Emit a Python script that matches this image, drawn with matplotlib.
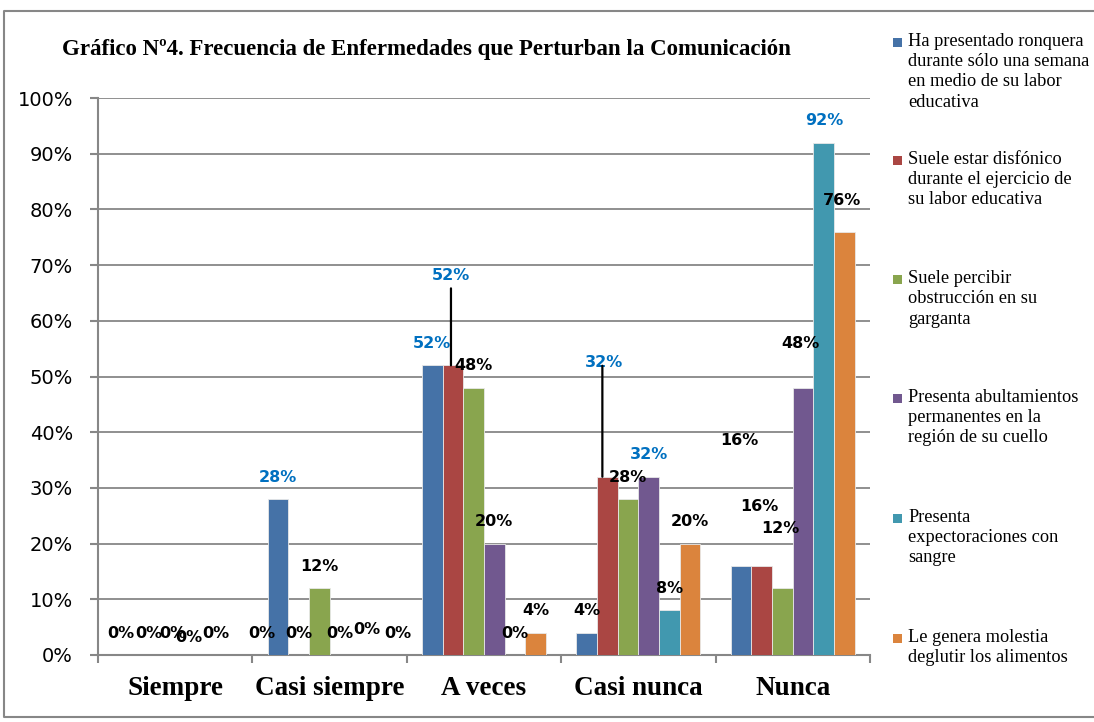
import numpy as np
import matplotlib.pyplot as plt
from matplotlib.patches import Rectangle
from matplotlib.lines import Line2D
from matplotlib.transforms import offset_copy

categorias = ['Siempre', 'Casi siempre', 'A veces', 'Casi nunca', 'Nunca']
series = [
    'Ha presentado ronquera\ndurante sólo una semana\nen medio de su labor\neducativa',
    'Suele estar disfónico\ndurante el ejercicio de\nsu labor educativa',
    'Suele percibir\nobstrucción en su\ngarganta',
    'Presenta abultamientos\npermanentes en la\nregión de su cuello',
    'Presenta\nexpectoraciones con\nsangre',
    'Le genera molestia\ndeglutir los alimentos',
]
ronquera = [0, 28, 52, 4, 16]
disfonico = [0, 0, 52, 32, 16]
obstruccion = [0, 12, 48, 28, 12]
abultamientos = [0, 0, 20, 32, 48]
expectoraciones = [0, 0, 0, 8, 92]
molestia = [0, 0, 4, 20, 76]
valores = [ronquera, disfonico, obstruccion, abultamientos, expectoraciones, molestia]

colores = ['#4572A7', '#AA4643', '#89A54E', '#71588F', '#4198AF', '#DB843D']
titulo = 'Gráfico Nº4. Frecuencia de Enfermedades que Perturban la Comunicación'

# ajustes manuales de etiquetas (pixeles): (categoria, serie) -> (dx, dy)
ajustes = {
    (0, 0): (-3, 0), (0, 1): (5, 0), (0, 2): (8, 0), (0, 3): (3, -5),
    (0, 4): (10, 0), (0, 5): (35, 0),
    (1, 4): (6, 3), (1, 5): (16, 0),
    (2, 1): (-2, 68),
    (3, 1): (-3, 92),
    (4, 0): (-2, 103), (4, 1): (-2, 37), (4, 2): (-2, 38), (4, 3): (-3, 22),
    (4, 5): (-3, 9),
}
# lineas guia: (categoria, serie) -> (dx, altura) en pixeles
lineas_guia = {(2, 1): (-2, 77), (3, 1): (-5, 111)}
etiquetas_azules = {(1, 0), (2, 0), (2, 1), (3, 1), (3, 3), (4, 4)}

W, H = 1094, 722
fig = plt.figure(figsize=(W / 100, H / 100), dpi=100)
ax = fig.add_axes([98 / W, 1 - 655 / H, (870 - 98) / W, (655 - 98) / H])

gris = '#878787'
n = len(series)
ancho = 0.134
x = np.arange(len(categorias))

for i, vals in enumerate(valores):
    pos = x + (i - (n - 1) / 2) * ancho
    ax.bar(pos, vals, width=ancho, color=colores[i], edgecolor='#e8e8e8',
           linewidth=0.6, zorder=3)
    for j, v in enumerate(vals):
        dx, dy = ajustes.get((j, i), (0, 0))
        col = '#0070C0' if (j, i) in etiquetas_azules else 'black'
        ax.annotate(f'{v}%', xy=(pos[j], v), xytext=(dx, 22 + dy),
                    textcoords='offset pixels', ha='center', va='center',
                    fontsize=11.5, fontweight='bold', color=col, zorder=5)
        if (j, i) in lineas_guia:
            lx, alto = lineas_guia[(j, i)]
            tr = offset_copy(ax.transData, fig=fig, x=lx, y=0, units='dots')
            ax.annotate('', xy=(pos[j], v), xycoords=tr, xytext=(0, alto),
                        textcoords='offset pixels',
                        arrowprops=dict(arrowstyle='-', color='black', lw=1.6,
                                        shrinkA=0, shrinkB=0), zorder=5)

ax.set_xlim(-0.5, len(categorias) - 0.5)
ax.set_ylim(0, 100)
ax.set_yticks(np.arange(0, 101, 10))
ax.set_yticklabels([f'{t}%' for t in range(0, 101, 10)],
                   fontsize=14, family='DejaVu Sans')
ax.set_xticks(x)
ax.set_xticklabels(categorias, fontsize=19.5, fontweight='bold',
                   family='Liberation Serif')
ax.set_xticks(np.arange(-0.5, len(categorias), 1), minor=True)
ax.tick_params(axis='x', which='major', length=0, pad=15)
ax.tick_params(axis='x', which='minor', length=6, width=1.5, color=gris,
               direction='out')
ax.tick_params(axis='y', length=6, width=1.5, color=gris, pad=12)

ax.grid(axis='y', color=gris, linewidth=1.3, zorder=0)
ax.set_axisbelow(True)
for s in ['top', 'right']:
    ax.spines[s].set_visible(False)
for s in ['left', 'bottom']:
    ax.spines[s].set_color(gris)
    ax.spines[s].set_linewidth(1.5)

fig.text(62 / W, 1 - 50 / H, titulo, fontsize=16.5, fontweight='bold',
         family='Liberation Serif', ha='left', va='center')

# leyenda
ley_y = [42, 160, 279, 398, 518, 638]
for i, etiqueta in enumerate(series):
    yc = ley_y[i]
    fig.patches.append(Rectangle((893 / W, 1 - (yc + 5) / H), 9 / W, 9 / H,
                                 transform=fig.transFigure,
                                 facecolor=colores[i], edgecolor='none'))
    fig.text(908 / W, 1 - (yc - 9) / H, etiqueta, fontsize=13.2,
             family='Liberation Serif', ha='left', va='top', linespacing=1.25)

# marco del grafico (el borde derecho queda fuera de la imagen)
arriba, abajo, izq = 1 - 11 / H, 1 - 717 / H, 4 / W
fig.add_artist(Line2D([1.0, izq, izq, 1.0], [arriba, arriba, abajo, abajo],
                      transform=fig.transFigure, color=gris, linewidth=1.5))

fig.savefig('out.png', dpi=100)
